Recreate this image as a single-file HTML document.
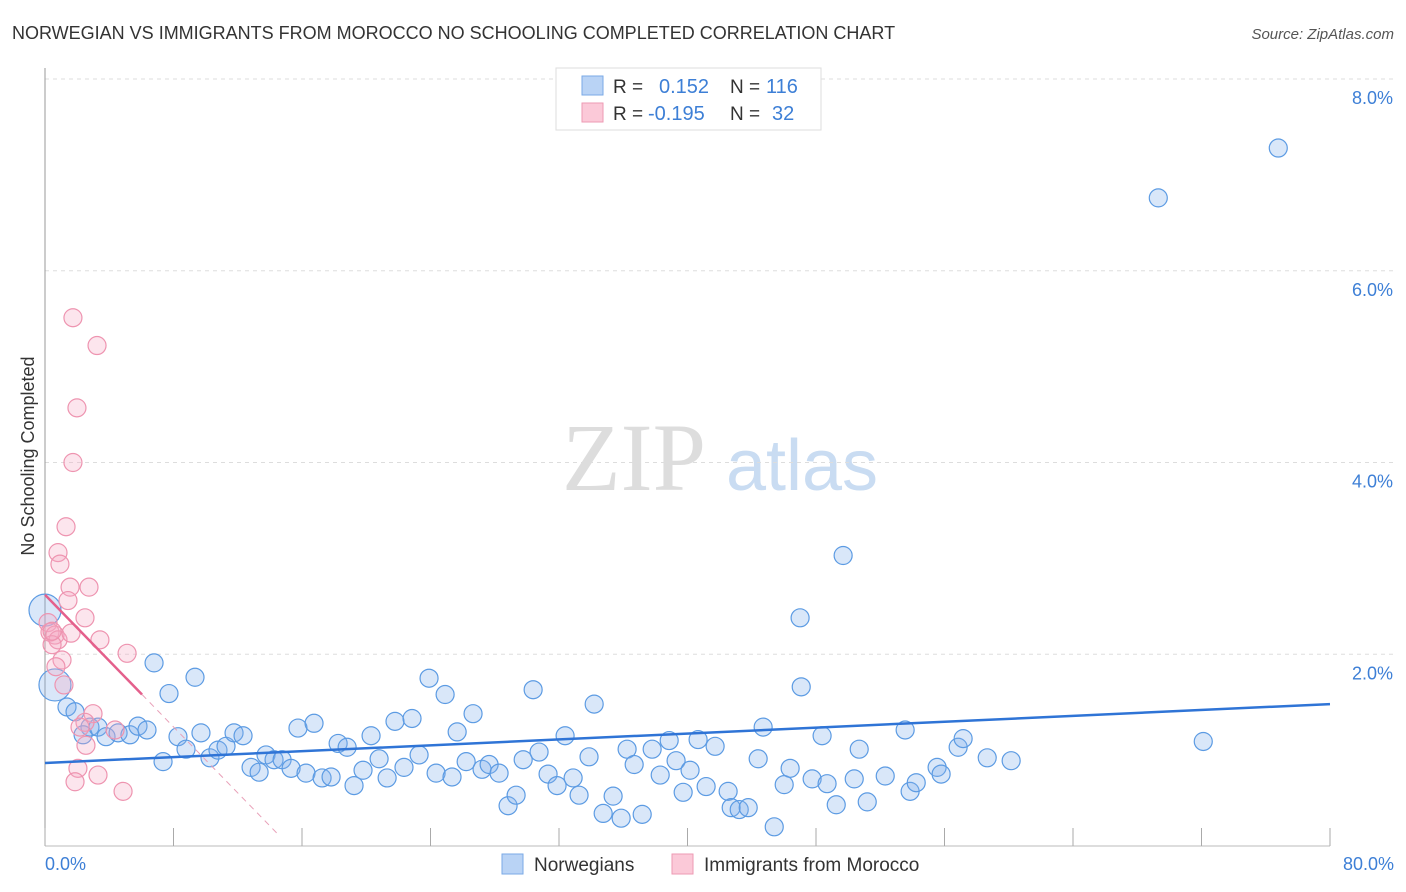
<!DOCTYPE html>
<html><head><meta charset="utf-8"><style>
body{margin:0;background:#fff;font-family:"Liberation Sans",sans-serif}
svg{display:block}
</style></head><body>
<svg id="chart" width="1406" height="892" xmlns="http://www.w3.org/2000/svg">
<text x="12" y="39" font-size="18" fill="#333">NORWEGIAN VS IMMIGRANTS FROM MOROCCO NO SCHOOLING COMPLETED CORRELATION CHART</text>
<text x="1394" y="39" font-size="15" fill="#555" text-anchor="end" font-style="italic">Source: ZipAtlas.com</text>
<g>
<text x="634" y="490" font-size="96" font-family="Liberation Serif,serif" fill="#ddd" text-anchor="middle">ZIP</text>
<text x="802" y="490" font-size="72" fill="#c9dcf2" text-anchor="middle">atlas</text>
</g>
<g id="grid"></g>
<g id="axes"></g>
<g id="pts"></g>
<g id="trends"></g>
<text transform="translate(34,456) rotate(-90)" font-size="18" fill="#333" text-anchor="middle">No Schooling Completed</text>
<g>
<rect x="556" y="68" width="265" height="62" fill="#fff" stroke="#ddd"/>
<rect x="582" y="76" width="21" height="19" fill="#b9d3f5" stroke="#7aa9e6"/>
<rect x="582" y="103" width="21" height="19" fill="#fbc9d8" stroke="#ee9ab3"/>
<text x="613" y="93" font-size="19" fill="#333">R =</text>
<text x="659" y="93" font-size="20" fill="#3d7fd6">0.152</text>
<text x="730" y="93" font-size="19" fill="#333">N =</text>
<text x="766" y="93" font-size="20" fill="#3d7fd6">116</text>
<text x="613" y="120" font-size="19" fill="#333">R =</text>
<text x="648" y="120" font-size="20" fill="#3d7fd6">-0.195</text>
<text x="730" y="120" font-size="19" fill="#333">N =</text>
<text x="772" y="120" font-size="20" fill="#3d7fd6">32</text>
</g>
<g>
<rect x="502" y="854" width="21" height="20" fill="#b9d3f5" stroke="#7aa9e6"/>
<text x="534" y="871" font-size="19" fill="#333">Norwegians</text>
<rect x="672" y="854" width="21" height="20" fill="#fbc9d8" stroke="#ee9ab3"/>
<text x="704" y="871" font-size="19" fill="#333">Immigrants from Morocco</text>
</g>
</svg>
<script>
const blueX=[76.78,69.31,49.69,47.01,47.08,6.79,9.34,7.72,23.91,24.91,30.39,34.19,26.65,72.11,0,0.62,1.37,1.87,2.80,2.37,3.30,3.80,4.55,5.29,5.79,6.35,7.35,8.28,8.78,9.71,10.27,10.77,11.27,11.77,12.33,12.83,13.33,13.76,14.26,14.76,15.32,15.75,16.25,16.75,17.25,17.81,18.25,18.81,19.24,19.80,20.30,20.80,21.30,21.79,22.35,22.85,23.29,24.35,25.34,25.66,26.22,27.21,27.65,28.27,28.83,29.33,29.77,30.76,31.32,31.88,32.38,32.88,33.25,33.87,34.75,35.37,35.87,36.24,36.68,37.18,37.80,38.30,38.86,39.29,39.73,40.16,40.66,41.16,41.72,42.53,42.72,43.22,43.78,44.40,44.71,45.40,46.02,46.39,47.76,48.38,48.69,49.26,50.38,50.69,51.19,52.31,53.55,53.86,54.24,55.54,55.79,56.85,57.16,58.66,60.15];
const blueY=[7.28,6.76,3.03,2.38,1.66,1.91,1.76,1.59,1.75,1.58,1.63,1.48,1.38,1.09,2.46,1.68,1.45,1.40,1.24,1.16,1.24,1.14,1.18,1.16,1.25,1.21,0.88,1.14,1.01,1.18,0.92,1.00,1.04,1.18,1.15,0.82,0.77,0.95,0.90,0.90,0.81,1.23,0.76,1.28,0.71,0.72,1.07,1.03,0.63,0.79,1.15,0.91,0.71,1.30,0.82,1.33,0.95,0.76,0.72,1.19,0.88,0.80,0.85,0.76,0.42,0.53,0.90,0.98,0.75,0.63,1.15,0.71,0.53,0.93,0.34,0.52,0.29,1.01,0.85,0.33,1.01,0.74,1.10,0.89,0.56,0.79,1.11,0.62,1.04,0.57,0.40,0.38,0.40,0.91,1.24,0.20,0.64,0.81,0.70,1.15,0.65,0.43,0.70,1.01,0.46,0.73,1.21,0.57,0.66,0.82,0.75,1.03,1.12,0.92,0.89];
const pinkX=[1.74,3.24,1.99,1.74,1.31,0.81,0.93,1.56,2.74,1.43,2.49,0.19,0.31,0.62,0.81,1.62,3.42,5.11,0.44,1.06,0.68,1.18,2.99,2.49,2.18,2.55,4.36,2.05,1.87,3.30,4.86,0.44];
const pinkY=[5.51,5.22,4.57,4.00,3.33,3.06,2.94,2.70,2.70,2.56,2.38,2.33,2.23,2.20,2.15,2.22,2.15,2.01,2.10,1.94,1.87,1.68,1.38,1.29,1.24,1.05,1.21,0.81,0.67,0.74,0.57,2.24];
const yTicks=[2,4,6,8];
const xTickLabels=["0.0%","80.0%"];
const blueTrend=[0.866,1.48];
const pinkTrend=[2.62,-0.195*0+1.58];
const NS="http://www.w3.org/2000/svg";
const X0=45,X1=1330,Y0=846,Y8=79;
const sx=v=>X0+(X1-X0)*v/80;
const sy=v=>Y0-(Y0-Y8)*v/8;
function mk(t,a,p){const e=document.createElementNS(NS,t);for(const k in a)e.setAttribute(k,a[k]);p.appendChild(e);return e;}
const grid=document.getElementById('grid'),axes=document.getElementById('axes');
yTicks.forEach(t=>{
 const l=mk('line',{x1:X0,x2:1395,y1:sy(t),y2:sy(t),stroke:'#ddd','stroke-dasharray':'4,4'},grid);
 
 
 const tx=mk('text',{x:1393,y:sy(t)+25,'font-size':18,fill:'#3d7fd6','text-anchor':'end'},grid);
 tx.textContent=t.toFixed(1)+'%';
 
 
});
const ya=mk('line',{x1:X0,x2:X0,y1:68,y2:Y0,stroke:'#999'},axes);


const xa=mk('line',{x1:X0,x2:X1,y1:Y0,y2:Y0,stroke:'#bbb'},axes);


for(let i=0;i<=10;i++){
 const tk=mk('line',{x1:sx(i*8),x2:sx(i*8),y1:828,y2:Y0,stroke:'#aaa'},axes);
 
 
}
[[0,'start',45],[80,'end',1394]].forEach((d,i)=>{
 const t=mk('text',{x:d[2],y:870,'font-size':18,fill:'#3d7fd6','text-anchor':d[1]},axes);
 t.textContent=xTickLabels[i];
 
 
});
const pts=document.getElementById('pts');
blueX.forEach((x,i)=>{
 const big=(x<1&&i>=14&&i<=15);
 const c=mk('circle',{cx:sx(x),cy:sy(blueY[i]),r:big?16:9,fill:'rgba(130,175,235,0.3)',stroke:'#5c9be3','stroke-width':1.2},pts);
 
 
});
pinkX.forEach((x,i)=>{
 const c=mk('circle',{cx:sx(x),cy:sy(pinkY[i]),r:9,fill:'rgba(245,170,195,0.3)',stroke:'#ee94b0','stroke-width':1.2},pts);
 
 
});
const tr=document.getElementById('trends');
const bl=mk('line',{x1:sx(0),y1:sy(blueTrend[0]),x2:sx(80),y2:sy(blueTrend[1]),stroke:'#2f74d6','stroke-width':2.5},tr);


const slope=(pinkTrend[1]-pinkTrend[0])/6.04;
const pl=mk('line',{x1:sx(0),y1:sy(pinkTrend[0]),x2:sx(6.04),y2:sy(pinkTrend[1]),stroke:'#e4608c','stroke-width':2.5},tr);


const pd=mk('line',{x1:sx(6.04),y1:sy(pinkTrend[1]),x2:sx(14.5),y2:sy(pinkTrend[0]+slope*14.5),stroke:'#e8a0b8','stroke-width':1,'stroke-dasharray':'6,5'},tr);


</script>
</body></html>
